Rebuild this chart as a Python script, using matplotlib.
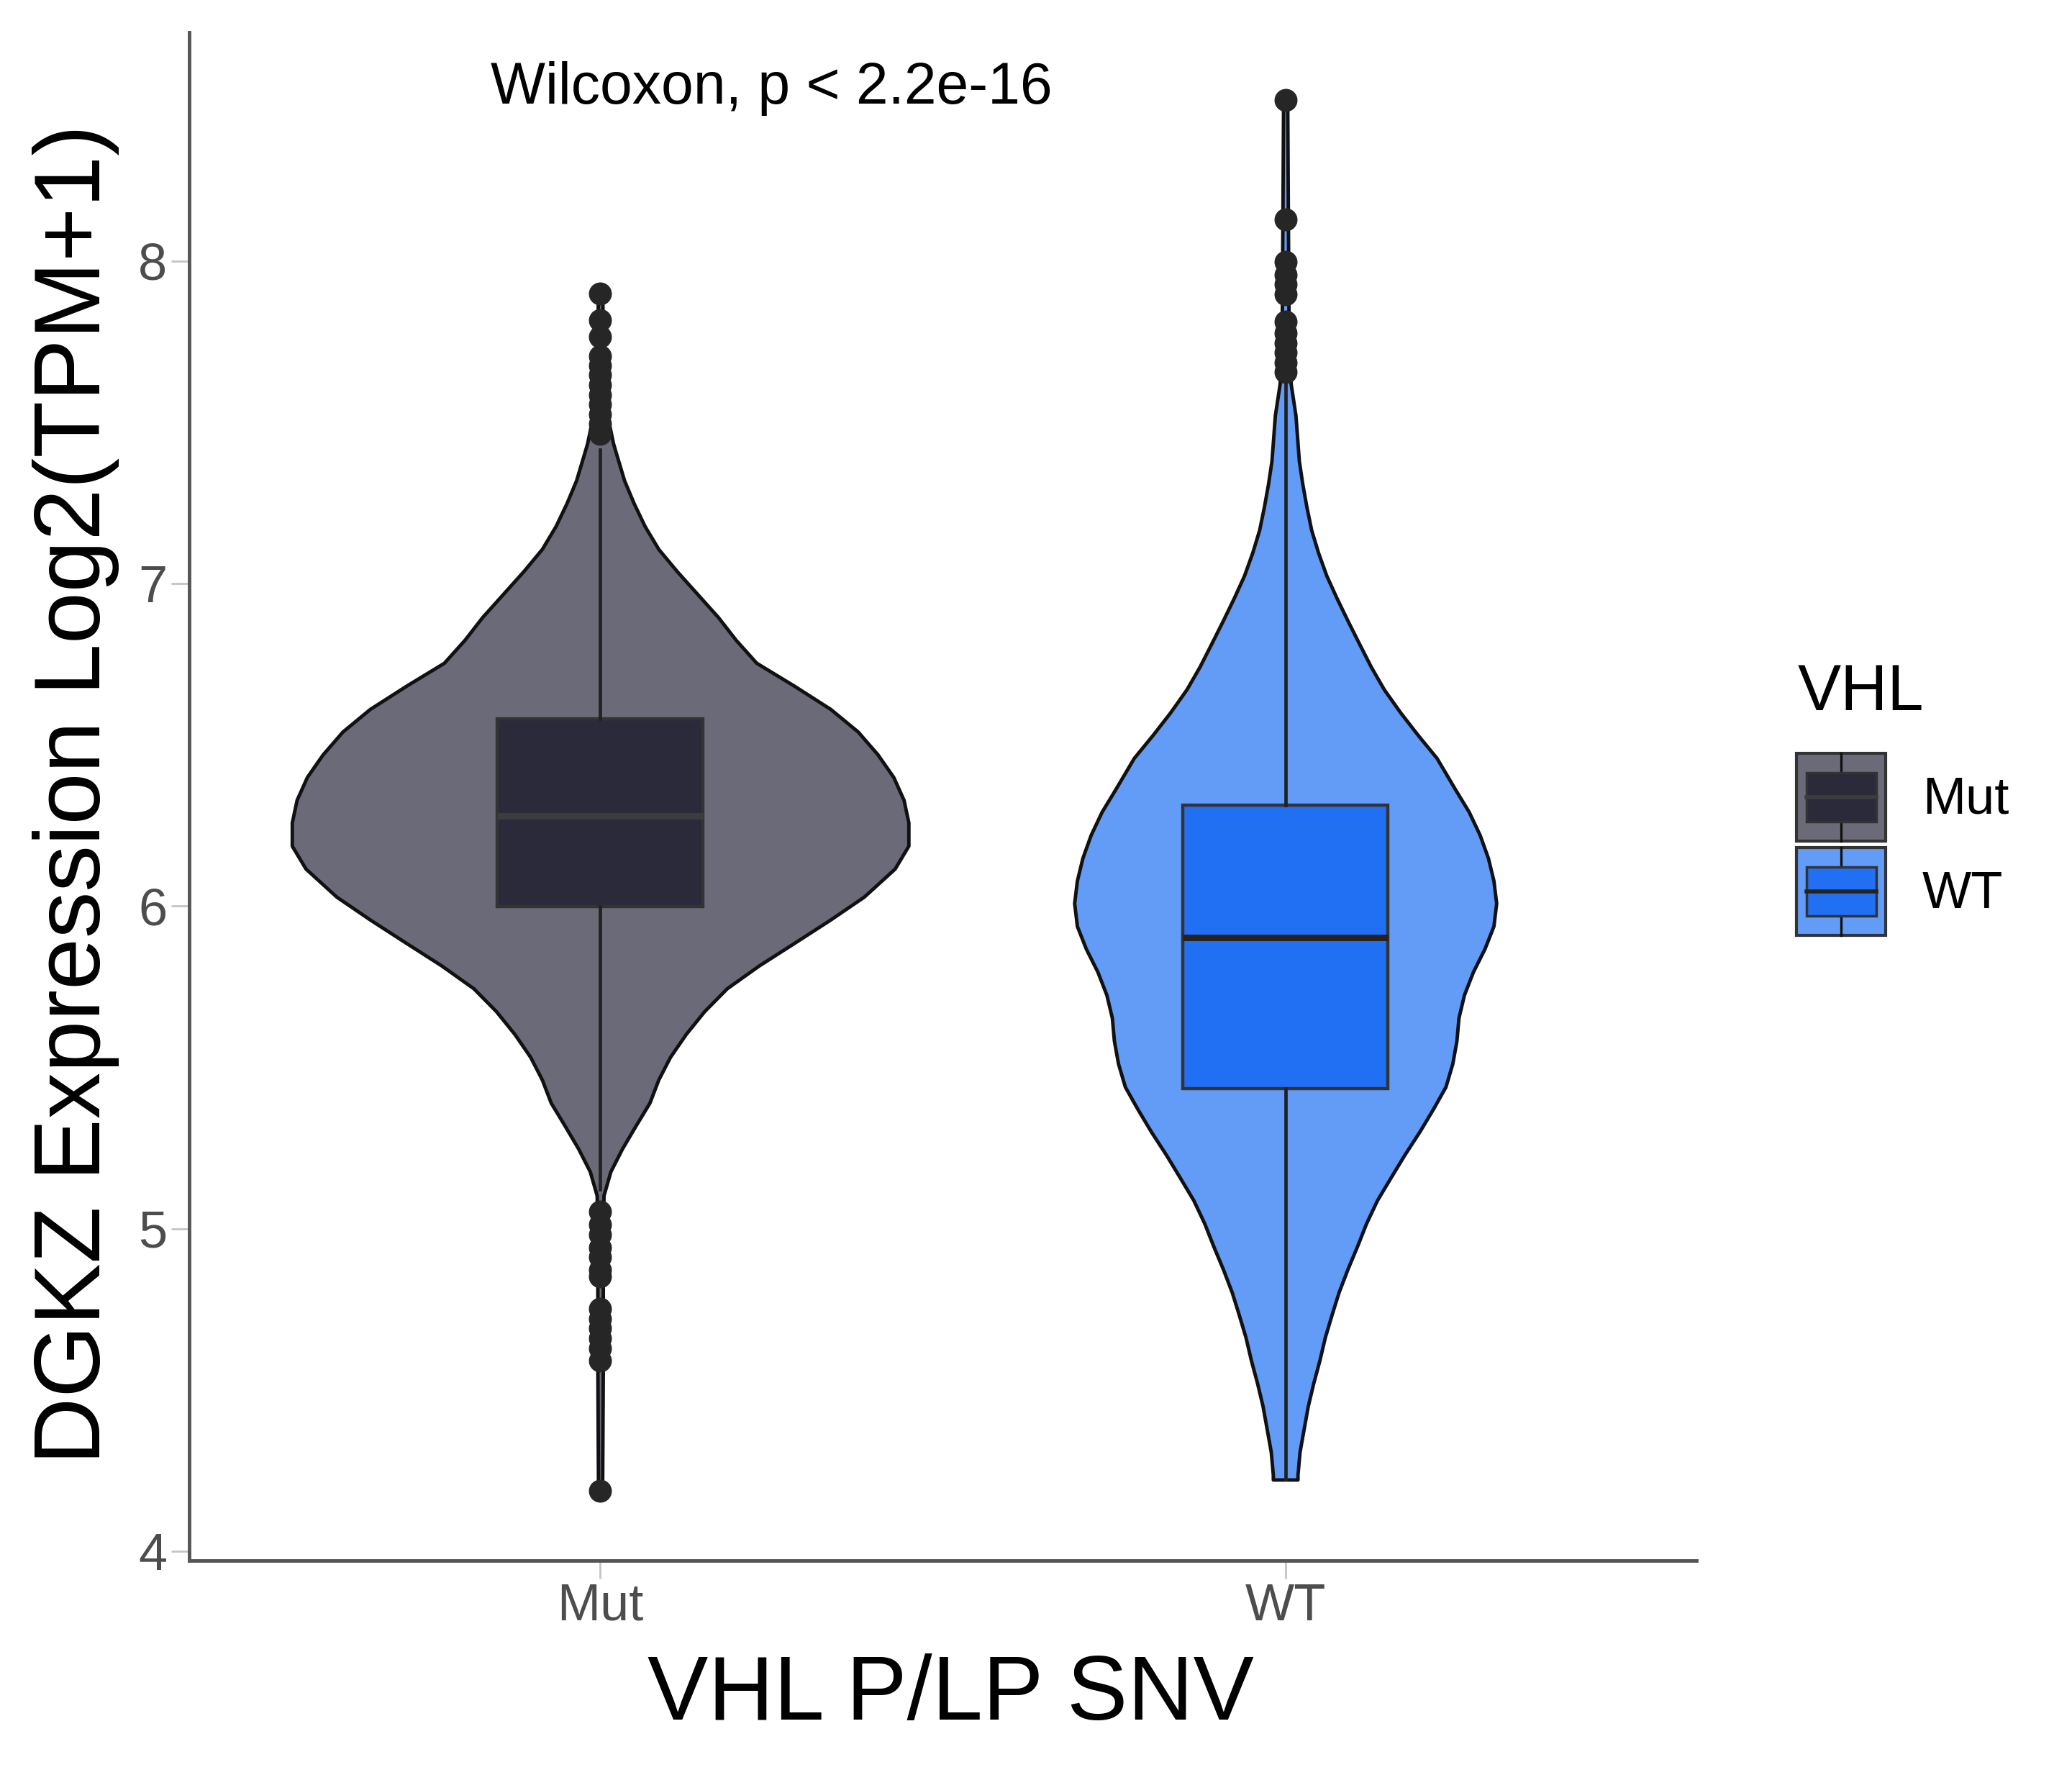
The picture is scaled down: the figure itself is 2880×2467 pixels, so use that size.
import matplotlib
matplotlib.use("Agg")
import matplotlib.pyplot as plt
from matplotlib.legend_handler import HandlerBase
from matplotlib.patches import Rectangle
from matplotlib.lines import Line2D

# === DATA ===
groups = ["Mut", "WT"]
positions = [1, 2]

# violin outline: y level and half width (in x units)
mut_y = [4.188, 4.580, 4.982, 5.103, 5.177, 5.248, 5.320, 5.390, 5.462, 5.532,
         5.603, 5.674, 5.745, 5.816, 5.888, 5.958, 6.029, 6.116, 6.187, 6.259,
         6.329, 6.400, 6.470, 6.541, 6.611, 6.683, 6.754, 6.825, 6.896, 6.967,
         7.038, 7.107, 7.178, 7.249, 7.320, 7.391, 7.434, 7.545, 7.696, 7.900]
mut_half = [0.003, 0.004, 0.004, 0.005, 0.015, 0.032, 0.052, 0.072, 0.085, 0.102,
            0.125, 0.152, 0.185, 0.232, 0.285, 0.336, 0.385, 0.430, 0.450, 0.450,
            0.443, 0.428, 0.405, 0.376, 0.336, 0.283, 0.228, 0.198, 0.172, 0.142,
            0.112, 0.085, 0.065, 0.049, 0.035, 0.025, 0.019, 0.008, 0.005, 0.003]

wt_y = [4.222, 4.237, 4.308, 4.379, 4.450, 4.521, 4.592, 4.664, 4.735, 4.803,
        4.875, 4.946, 5.016, 5.088, 5.159, 5.229, 5.301, 5.372, 5.440, 5.512,
        5.583, 5.654, 5.725, 5.796, 5.868, 5.938, 6.009, 6.079, 6.149, 6.220,
        6.292, 6.362, 6.459, 6.529, 6.600, 6.672, 6.742, 6.813, 6.885, 6.955,
        7.025, 7.096, 7.166, 7.238, 7.309, 7.380, 7.522, 7.620, 7.796, 8.128, 8.500]
wt_half = [0.018, 0.018, 0.021, 0.027, 0.033, 0.041, 0.050, 0.058, 0.068, 0.078,
           0.091, 0.105, 0.118, 0.134, 0.154, 0.174, 0.196, 0.216, 0.234, 0.244,
           0.250, 0.253, 0.261, 0.274, 0.291, 0.304, 0.308, 0.304, 0.296, 0.284,
           0.268, 0.248, 0.221, 0.194, 0.168, 0.144, 0.125, 0.108, 0.091, 0.075,
           0.060, 0.048, 0.038, 0.031, 0.025, 0.020, 0.015, 0.008, 0.005, 0.004, 0.003]

# boxplot stats
mut_box = {"q1": 5.998, "med": 6.279, "q3": 6.580, "whislo": 5.123, "whishi": 7.415}
wt_box = {"q1": 5.434, "med": 5.902, "q3": 6.314, "whislo": 4.222, "whishi": 7.626}

mut_outliers = [7.900, 7.817, 7.766, 7.706, 7.676, 7.646, 7.616, 7.585, 7.555, 7.525,
                7.495, 7.465,
                5.053, 5.013, 4.982, 4.942, 4.912, 4.872, 4.852, 4.751, 4.721, 4.691,
                4.661, 4.630, 4.590, 4.188]
wt_outliers = [8.500, 8.128, 7.997, 7.957, 7.927, 7.897, 7.812, 7.776, 7.746, 7.716,
               7.686, 7.656]

yticks = [4, 5, 6, 7, 8]
p_label = "Wilcoxon, p < 2.2e-16"

# === STYLE ===
violin_fill = ["#6b6a78", "#629cf6"]
box_fill = ["#2a2a3b", "#216ff3"]
median_col = ["#3c3c3f", "#26231f"]
box_edge = "#333333"
line_col = "#111111"
point_col = "#262626"

plt.rcParams["font.family"] = ["Liberation Sans", "DejaVu Sans"]


class ViolinBoxKey(HandlerBase):
    """legend key: violin fill square with a small boxplot glyph"""
    def __init__(self, vfill, bfill, med):
        super().__init__()
        self.vfill, self.bfill, self.med = vfill, bfill, med

    def create_artists(self, legend, orig_handle, xdescent, ydescent,
                       width, height, fontsize, trans):
        x0, y0 = -xdescent, -ydescent
        cx = x0 + width / 2
        outer = Rectangle((x0, y0), width, height, facecolor=self.vfill,
                          edgecolor="#333333", lw=3, transform=trans)
        w_lo = Line2D([cx, cx], [y0, y0 + 0.22 * height], color=line_col, lw=2.4, transform=trans)
        w_hi = Line2D([cx, cx], [y0 + 0.78 * height, y0 + height], color=line_col, lw=2.4, transform=trans)
        box = Rectangle((x0 + 0.11 * width, y0 + 0.22 * height), 0.78 * width, 0.56 * height,
                        facecolor=self.bfill, edgecolor=box_edge, lw=2.5, transform=trans)
        med = Line2D([x0 + 0.11 * width, x0 + 0.89 * width], [y0 + 0.5 * height] * 2,
                     color=self.med, lw=4, transform=trans)
        return [outer, w_lo, w_hi, box, med]


# === PLOT ===
fig = plt.figure(figsize=(28.8, 24.67), dpi=100)
ax = fig.add_axes([0.0913, 0.1208, 0.7274, 0.8610])

profiles = [(mut_y, mut_half), (wt_y, wt_half)]
boxes = [mut_box, wt_box]
outliers = [mut_outliers, wt_outliers]

for i, pos in enumerate(positions):
    ys, hw = profiles[i]
    ax.fill_betweenx(ys, [pos - h for h in hw], [pos + h for h in hw],
                     facecolor=violin_fill[i], edgecolor=line_col, linewidth=3.5, zorder=1)

    stats = dict(boxes[i], fliers=outliers[i], label=groups[i])
    ax.bxp([stats], positions=[pos], widths=0.3, patch_artist=True, showcaps=False,
           boxprops=dict(facecolor=box_fill[i], edgecolor=box_edge, linewidth=3.2),
           medianprops=dict(color=median_col[i], linewidth=6.5, solid_capstyle="butt"),
           whiskerprops=dict(color="#222222", linewidth=3.4),
           flierprops=dict(marker="o", markerfacecolor=point_col, markeredgecolor=point_col,
                           markersize=22, markeredgewidth=1),
           manage_ticks=False, zorder=2)

ax.text(1.25, 8.489, p_label, ha="center", va="baseline", fontsize=58, color="black")

ax.set_xlim(0.4, 2.6)
ax.set_ylim(3.971, 8.709)
ax.set_xticks(positions)
ax.set_xticklabels(groups)
ax.set_yticks(yticks)
for s in ["top", "right"]:
    ax.spines[s].set_visible(False)
for s in ["left", "bottom"]:
    ax.spines[s].set_color("#555555")
    ax.spines[s].set_linewidth(3.5)
ax.tick_params(length=18, width=2, color="#c4c4c4", labelsize=52, labelcolor="#4d4d4d", pad=4)

fig.text(0.0368, 0.5525, "DGKZ Expression Log2(TPM+1)", rotation=90,
         ha="center", va="center", fontsize=93)
fig.text(0.4587, 0.0446, "VHL P/LP SNV", ha="center", va="center", fontsize=91)

# legend
fig.text(0.8674, 0.600, "VHL", ha="left", va="baseline", fontsize=65)
handles = [Rectangle((0, 0), 1, 1), Rectangle((0, 0), 1, 1)]
hmap = {handles[i]: ViolinBoxKey(violin_fill[i], box_fill[i], median_col[i]) for i in range(2)}
fig.legend(handles, groups, handler_map=hmap, loc="upper left",
           bbox_to_anchor=(0.8670, 0.5756), bbox_transform=fig.transFigure,
           frameon=False, borderpad=0, fontsize=52, handlelength=1.72, handleheight=2.223,
           labelspacing=0.125, handletextpad=0.7, borderaxespad=0)

fig.savefig("out.png", dpi=100)
plt.close(fig)
print("saved out.png")
